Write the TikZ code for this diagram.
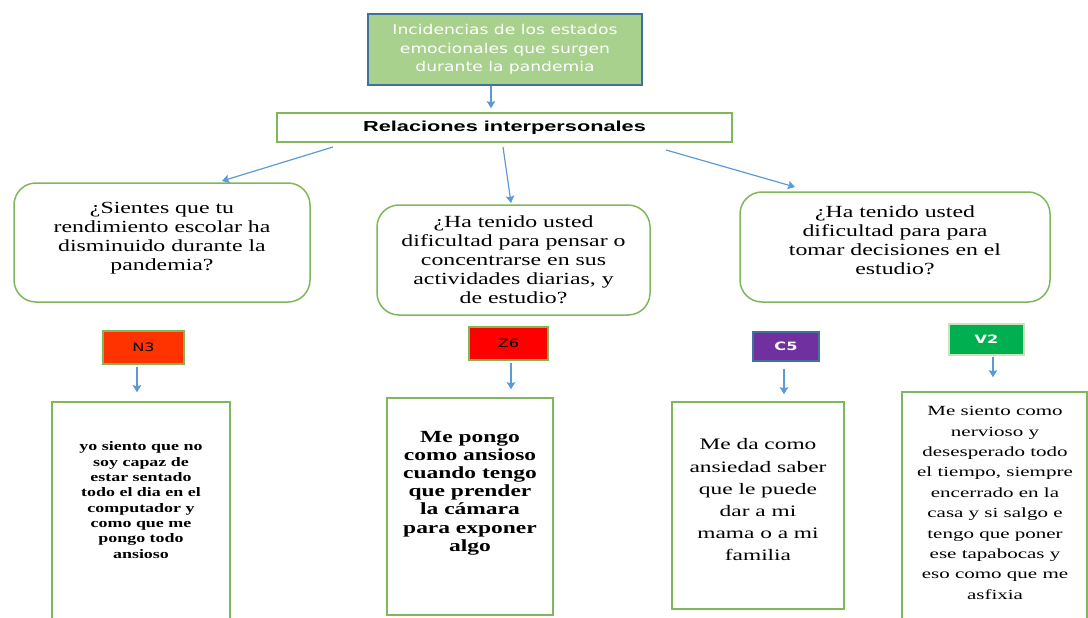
\documentclass[tikz,border=0pt]{standalone}
\usepackage{fontspec}
\setmainfont{Liberation Serif}
\setsansfont{Liberation Sans}
\newfontfamily\widesans[FakeStretch=1.27]{DejaVu Sans}
\newfontfamily\codesans[FakeStretch=1.4]{DejaVu Sans}
\newfontfamily\relsans[FakeStretch=1.5]{Liberation Sans}
\newfontfamily\qserif[FakeStretch=1.4]{Liberation Serif}
\newfontfamily\aserif[FakeStretch=1.38]{Liberation Serif}
\newfontfamily\bserif[FakeStretch=1.46]{Liberation Serif}
\newfontfamily\cserif[FakeStretch=1.5]{Liberation Serif}
\usetikzlibrary{positioning,arrows.meta}
\definecolor{topfill}{HTML}{A9D18E}
\definecolor{topdraw}{HTML}{41719C}
\definecolor{linkblue}{HTML}{5B9BD5}
\definecolor{boxgreen}{HTML}{7FB75A}
\definecolor{codeorange}{HTML}{FF3300}
\definecolor{codered}{HTML}{FF0000}
\definecolor{codeviolet}{HTML}{7030A0}
\definecolor{codegreen}{HTML}{00B050}

\begin{document}
\begin{tikzpicture}[x=1pt,y=-1pt,
    topbox/.style={draw=topdraw,line width=1.5pt,fill=topfill,text=white,align=center,inner sep=0pt,font=\widesans\fontsize{13.5}{18.5}\selectfont},
    relbox/.style={draw=boxgreen,line width=1.5pt,fill=white,inner sep=0pt,font=\relsans\bfseries\fontsize{14.5}{18}\selectfont},
    question/.style={draw=boxgreen,line width=1.5pt,rounded corners=22pt,inner sep=0pt},
    qtext/.style={align=center,inner sep=0pt,font=\qserif\fontsize{17}{19}\selectfont},
    code/.style={draw=boxgreen,line width=1.2pt,inner sep=0pt,font=\codesans\fontsize{11.5}{13}\selectfont},
    answer/.style={draw=boxgreen,line width=1.5pt,inner sep=0pt},
    atext/.style={align=center,inner sep=0pt},
    link/.style={-{Stealth[length=7pt,width=8.5pt,inset=1pt]},linkblue,line width=1.2pt}]
  \useasboundingbox (0,0) rectangle (1088,618);
  \clip (0,0) rectangle (1088,618);
  % top of the map
  \node[topbox,minimum width=274pt,minimum height=71pt] (tema) at (505,49.5) {Incidencias de los estados\\emocionales que surgen\\durante la pandemia};
  \node[relbox,minimum width=455pt,minimum height=29pt] (rel) at (504.5,127.5) {Relaciones interpersonales};
  \coordinate (mid) at (491,0);
  \draw[link,shorten >=4pt] (tema.south -| mid) -- (rel.north -| mid);
  % questions
  \node[question,minimum width=296pt,minimum height=119pt] (q1) at (162,242.5) {};
  \node[qtext] (q1t) at (162,238) {¿Sientes que tu\\rendimiento escolar ha\\disminuido durante la\\pandemia?};
  \node[question,minimum width=273pt,minimum height=110pt] (q2) at (513.5,260) {};
  \node[qtext] (q2t) at (513.5,260) {¿Ha tenido usted\\dificultad para pensar o\\concentrarse en sus\\actividades diarias, y\\de estudio?};
  \node[question,minimum width=310pt,minimum height=110pt] (q3) at (895,247) {};
  \node[qtext] (q3t) at (895,240) {¿Ha tenido usted\\dificultad para para\\tomar decisiones en el\\estudio?};
  \coordinate (r1) at (333,147);
  \coordinate (r2) at (503,147);
  \coordinate (r3) at (666,150);
  \draw[link] (r1) -- (222,181);
  \draw[link] (r2) -- (511,203);
  \draw[link] (r3) -- (795,187);
  % codes
  \node[code,fill=codeorange,minimum width=81pt,minimum height=33pt] (n3) at (143.5,347.5) {N3};
  \node[code,fill=codered,minimum width=79pt,minimum height=33pt] (z6) at (508.5,343.5) {Z6};
  \node[code,draw=topdraw,fill=codeviolet,text=white,minimum width=66pt,minimum height=29pt] (c5) at (786,346.5) {\bfseries C5};
  \node[code,draw=boxgreen!40,fill=codegreen,text=white,minimum width=75pt,minimum height=31pt] (v2) at (986.5,339.5) {\bfseries V2};
  % answers
  \node[answer,minimum width=178pt,minimum height=238pt] (a1) at (141,521) {};
  \node[atext,font=\aserif\bfseries\fontsize{13}{15.3}\selectfont] (a1t) at (141,500) {yo siento que no\\soy capaz de\\estar sentado\\todo el dia en el\\computador y\\como que me\\pongo todo\\ansioso};
  \node[answer,minimum width=166pt,minimum height=217pt] (a2) at (470,506.5) {};
  \node[atext,font=\aserif\bfseries\fontsize{17}{18.2}\selectfont] (a2t) at (470,493) {Me pongo\\como ansioso\\cuando tengo\\que prender\\la cámara\\para exponer\\algo};
  \node[answer,minimum width=172pt,minimum height=207pt] (a3) at (758,505.5) {};
  \node[atext,font=\bserif\fontsize{16}{22.2}\selectfont] (a3t) at (758,500) {Me da como\\ansiedad saber\\que le puede\\dar a mi\\mama o a mi\\familia};
  \node[answer,minimum width=185pt,minimum height=248pt] (a4) at (994.5,516) {};
  \node[atext,font=\cserif\fontsize{14}{20.4}\selectfont] (a4t) at (995,503) {Me siento como\\nervioso y\\desesperado todo\\el tiempo, siempre\\encerrado en la\\casa y si salgo e\\tengo que poner\\ese tapabocas y\\eso como que me\\asfixia};
  \coordinate (s1) at (137,0);
  \coordinate (s2) at (511,0);
  \coordinate (s3) at (784,0);
  \coordinate (s4) at (993,0);
  \draw[link,shorten <=2pt,shorten >=9pt] (n3.south -| s1) -- (a1.north -| s1);
  \draw[link,shorten <=2pt,shorten >=8pt] (z6.south -| s2) -- (a2.north -| s2);
  \draw[link,shorten <=7pt,shorten >=7pt] (c5.south -| s3) -- (a3.north -| s3);
  \draw[link,shorten <=1pt,shorten >=14pt] (v2.south -| s4) -- (a4.north -| s4);
\end{tikzpicture}
\end{document}
